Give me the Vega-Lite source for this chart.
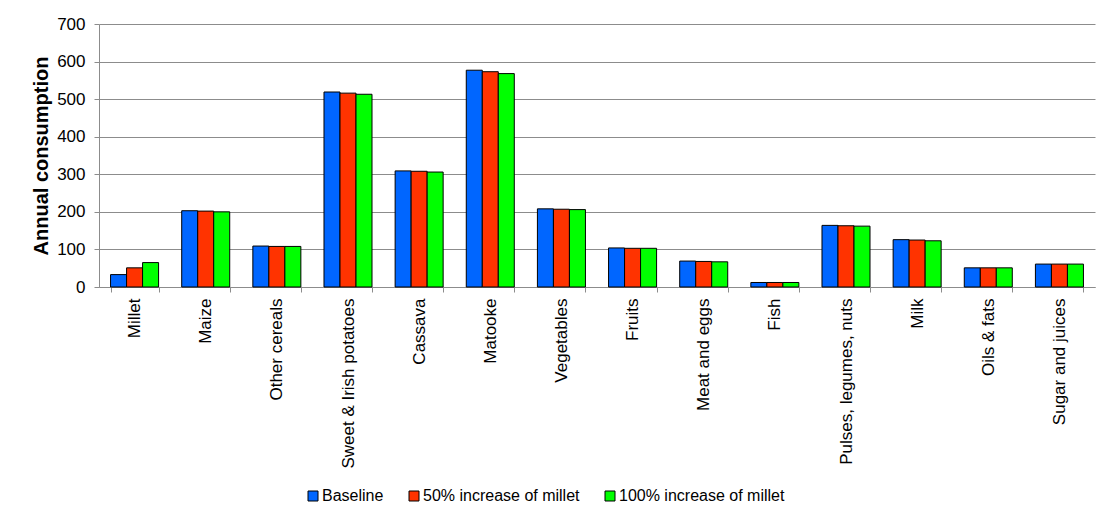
{
  "$schema": "https://vega.github.io/schema/vega-lite/v6.json",
  "width": 996,
  "height": 263,
  "autosize": {"type": "none"},
  "padding": {"left": 99, "top": 24, "right": 12, "bottom": 230},
  "background": "white",
  "data": {
    "values": [
      {"food": "Millet", "scenario": "Baseline", "value": 33},
      {"food": "Millet", "scenario": "50% increase of millet", "value": 51},
      {"food": "Millet", "scenario": "100% increase of millet", "value": 65},
      {"food": "Maize", "scenario": "Baseline", "value": 203},
      {"food": "Maize", "scenario": "50% increase of millet", "value": 202},
      {"food": "Maize", "scenario": "100% increase of millet", "value": 200},
      {"food": "Other cereals", "scenario": "Baseline", "value": 109},
      {"food": "Other cereals", "scenario": "50% increase of millet", "value": 108},
      {"food": "Other cereals", "scenario": "100% increase of millet", "value": 108},
      {"food": "Sweet & Irish potatoes", "scenario": "Baseline", "value": 519},
      {"food": "Sweet & Irish potatoes", "scenario": "50% increase of millet", "value": 516},
      {"food": "Sweet & Irish potatoes", "scenario": "100% increase of millet", "value": 513},
      {"food": "Cassava", "scenario": "Baseline", "value": 309},
      {"food": "Cassava", "scenario": "50% increase of millet", "value": 308},
      {"food": "Cassava", "scenario": "100% increase of millet", "value": 306},
      {"food": "Matooke", "scenario": "Baseline", "value": 577},
      {"food": "Matooke", "scenario": "50% increase of millet", "value": 573},
      {"food": "Matooke", "scenario": "100% increase of millet", "value": 568},
      {"food": "Vegetables", "scenario": "Baseline", "value": 208},
      {"food": "Vegetables", "scenario": "50% increase of millet", "value": 207},
      {"food": "Vegetables", "scenario": "100% increase of millet", "value": 206},
      {"food": "Fruits", "scenario": "Baseline", "value": 104},
      {"food": "Fruits", "scenario": "50% increase of millet", "value": 103},
      {"food": "Fruits", "scenario": "100% increase of millet", "value": 103},
      {"food": "Meat and eggs", "scenario": "Baseline", "value": 69},
      {"food": "Meat and eggs", "scenario": "50% increase of millet", "value": 68},
      {"food": "Meat and eggs", "scenario": "100% increase of millet", "value": 67},
      {"food": "Fish", "scenario": "Baseline", "value": 12},
      {"food": "Fish", "scenario": "50% increase of millet", "value": 12},
      {"food": "Fish", "scenario": "100% increase of millet", "value": 12},
      {"food": "Pulses, legumes, nuts", "scenario": "Baseline", "value": 164},
      {"food": "Pulses, legumes, nuts", "scenario": "50% increase of millet", "value": 163},
      {"food": "Pulses, legumes, nuts", "scenario": "100% increase of millet", "value": 162},
      {"food": "Milk", "scenario": "Baseline", "value": 126},
      {"food": "Milk", "scenario": "50% increase of millet", "value": 125},
      {"food": "Milk", "scenario": "100% increase of millet", "value": 123},
      {"food": "Oils & fats", "scenario": "Baseline", "value": 51},
      {"food": "Oils & fats", "scenario": "50% increase of millet", "value": 51},
      {"food": "Oils & fats", "scenario": "100% increase of millet", "value": 51},
      {"food": "Sugar and juices", "scenario": "Baseline", "value": 61},
      {"food": "Sugar and juices", "scenario": "50% increase of millet", "value": 61},
      {"food": "Sugar and juices", "scenario": "100% increase of millet", "value": 61}
    ]
  },
  "mark": {"type": "bar", "stroke": "black", "strokeWidth": 1},
  "encoding": {
    "x": {
      "field": "food",
      "type": "nominal",
      "sort": null,
      "scale": {"paddingInner": 0.325, "paddingOuter": 0.1625},
      "axis": {
        "title": null,
        "labelAngle": -90,
        "labelFont": "Liberation Sans",
        "labelFontSize": 17,
        "labelColor": "black",
        "labelPadding": 6,
        "labelLimit": 0,
        "tickBand": "extent",
        "tickSize": 5,
        "tickColor": "#8c8c8c",
        "domainColor": "#8c8c8c",
        "grid": false
      }
    },
    "xOffset": {
      "field": "scenario",
      "type": "nominal",
      "sort": ["Baseline", "50% increase of millet", "100% increase of millet"],
      "scale": {"paddingInner": 0, "paddingOuter": 0}
    },
    "y": {
      "field": "value",
      "type": "quantitative",
      "scale": {"domain": [0, 700]},
      "axis": {
        "title": "Annual consumption",
        "titleFont": "Liberation Sans",
        "titleFontSize": 20,
        "titleFontWeight": "bold",
        "titleColor": "black",
        "titlePadding": 5,
        "values": [0, 100, 200, 300, 400, 500, 600, 700],
        "labelFont": "Liberation Sans",
        "labelFontSize": 17,
        "labelColor": "black",
        "labelPadding": 9,
        "tickSize": 5,
        "tickColor": "#8c8c8c",
        "domainColor": "#8c8c8c",
        "gridColor": "#8c8c8c",
        "gridWidth": 1
      }
    },
    "color": {
      "field": "scenario",
      "type": "nominal",
      "sort": ["Baseline", "50% increase of millet", "100% increase of millet"],
      "scale": {
        "domain": ["Baseline", "50% increase of millet", "100% increase of millet"],
        "range": ["#0066ff", "#ff3300", "#00ff00"]
      },
      "legend": {
        "title": null,
        "orient": "none",
        "direction": "horizontal",
        "legendX": 206,
        "legendY": 464,
        "symbolType": "square",
        "symbolSize": 100,
        "symbolStrokeColor": "black",
        "symbolStrokeWidth": 1,
        "symbolOpacity": 1,
        "labelFont": "Liberation Sans",
        "labelFontSize": 16,
        "labelColor": "black",
        "labelLimit": 0,
        "labelOffset": 1,
        "columnPadding": 22
      }
    }
  },
  "config": {
    "view": {"stroke": null},
    "axis": {"domainWidth": 1, "tickWidth": 1}
  }
}
